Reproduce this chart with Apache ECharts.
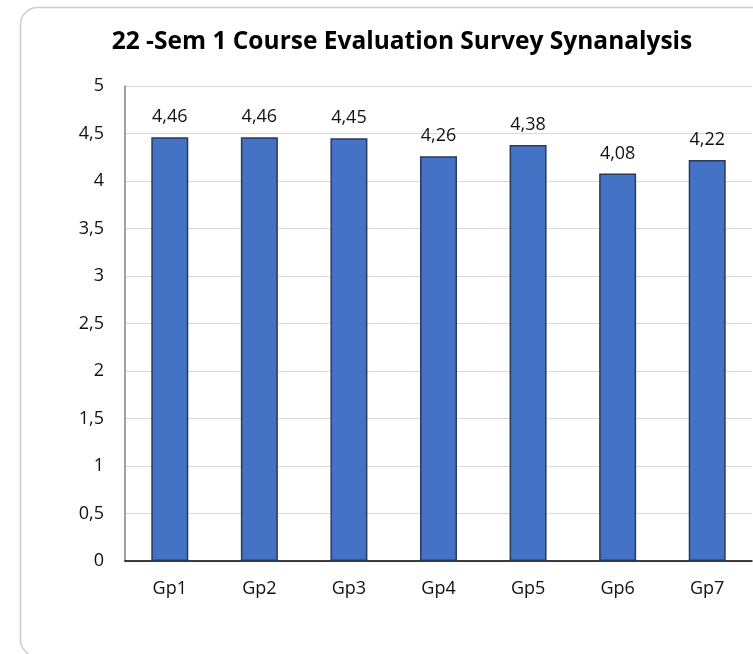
<!DOCTYPE html>
<html>
<head>
<meta charset="utf-8">
<script src="https://cdn.jsdelivr.net/npm/echarts@6/dist/echarts.min.js"></script>
<style>
html,body{margin:0;padding:0;background:#fff;overflow:hidden;}
#chart{width:753px;height:654px;}
</style>
</head>
<body>
<div id="chart"></div>
<script>
var titleText = '22 -Sem 1 Course Evaluation Survey Synanalysis';
var categories = ['Gp1','Gp2','Gp3','Gp4','Gp5','Gp6','Gp7'];
var scores = [4.46, 4.46, 4.45, 4.26, 4.38, 4.08, 4.22];
var yTicks = [0, 0.5, 1, 1.5, 2, 2.5, 3, 3.5, 4, 4.5, 5];

var FONT = 'Open Sans';
var TXT = '#111';
function comma(v){ return String(v).replace('.', ','); }

var chart = echarts.init(document.getElementById('chart'), null, {renderer:'canvas'});
chart.setOption({
  animation: false,
  backgroundColor: '#fff',
  graphic: [{
    type: 'rect',
    shape: {x: 20.5, y: 7.5, width: 800, height: 649, r: 17},
    style: {fill: 'none', stroke: '#cdcdcd', lineWidth: 1.5},
    z: -10
  }],
  title: {
    text: titleText,
    left: 397,
    top: 25,
    textAlign: 'center',
    textStyle: {fontFamily: FONT, fontWeight: 'bold', fontSize: 24.5, color: '#000'}
  },
  grid: {left: 125, right: 1, top: 86, bottom: 93, containLabel: false},
  xAxis: {
    type: 'category',
    data: categories,
    axisLine: {show: true, lineStyle: {color: '#000', width: 1.5}},
    axisTick: {show: false},
    axisLabel: {fontFamily: FONT, fontSize: 18, color: TXT, margin: 19}
  },
  yAxis: {
    type: 'value',
    min: yTicks[0],
    max: yTicks[yTicks.length - 1],
    interval: yTicks[1] - yTicks[0],
    axisLine: {show: true, lineStyle: {color: '#808080', width: 1.5}},
    axisTick: {show: false},
    splitLine: {lineStyle: {color: '#d9d9d9', width: 1}},
    axisLabel: {fontFamily: FONT, fontSize: 18, color: TXT, margin: 21, formatter: function(v){ return comma(v); }}
  },
  series: [{
    type: 'bar',
    data: scores,
    barWidth: 37,
    itemStyle: {color: '#4472C4', borderColor: '#2a3a5a', borderWidth: 1.5},
    label: {
      show: true,
      position: 'top',
      distance: 11,
      fontFamily: FONT,
      fontSize: 18,
      color: TXT,
      formatter: function(p){ return comma(p.value); }
    }
  }]
});
</script>
</body>
</html>
